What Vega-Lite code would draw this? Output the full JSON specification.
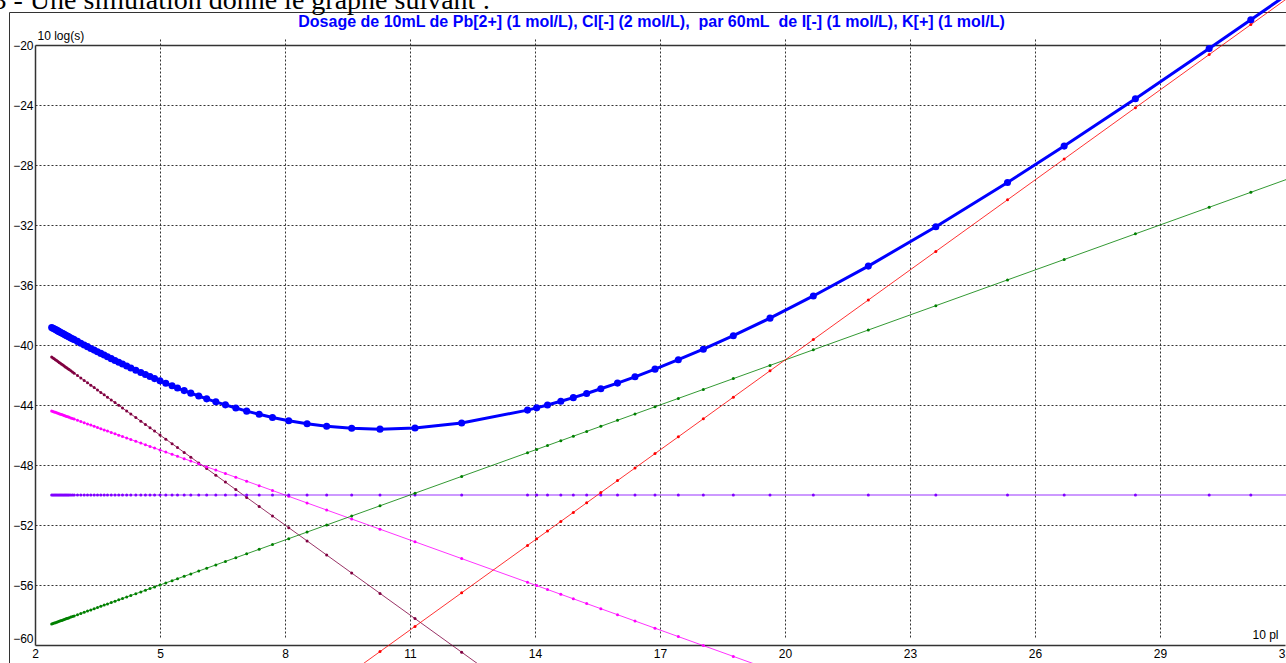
{
  "$schema": "https://vega.github.io/schema/vega-lite/v6.json",
  "autosize": {"type": "none"},
  "width": 1290,
  "height": 660,
  "padding": {"left": 9, "top": 12, "right": -13, "bottom": -9},
  "background": "white",
  "config": {
    "view": {"stroke": "#333333", "strokeWidth": 1},
    "font": "Liberation Sans"
  },
  "data": {
    "values": [
      {"x": 2.40, "total": -38.83, "brun": -40.80, "magenta": -44.40, "violet": -50, "vert": -58.60, "rouge": null},
      {"x": 2.43, "total": -38.88, "brun": -40.86, "magenta": -44.43, "violet": -50, "vert": -58.57, "rouge": null},
      {"x": 2.46, "total": -38.92, "brun": -40.92, "magenta": -44.46, "violet": -50, "vert": -58.54, "rouge": null},
      {"x": 2.49, "total": -38.97, "brun": -40.98, "magenta": -44.49, "violet": -50, "vert": -58.51, "rouge": null},
      {"x": 2.52, "total": -39.01, "brun": -41.04, "magenta": -44.52, "violet": -50, "vert": -58.48, "rouge": null},
      {"x": 2.55, "total": -39.06, "brun": -41.10, "magenta": -44.55, "violet": -50, "vert": -58.45, "rouge": null},
      {"x": 2.58, "total": -39.11, "brun": -41.16, "magenta": -44.58, "violet": -50, "vert": -58.42, "rouge": null},
      {"x": 2.61, "total": -39.15, "brun": -41.22, "magenta": -44.61, "violet": -50, "vert": -58.39, "rouge": null},
      {"x": 2.64, "total": -39.20, "brun": -41.28, "magenta": -44.64, "violet": -50, "vert": -58.36, "rouge": null},
      {"x": 2.67, "total": -39.24, "brun": -41.34, "magenta": -44.67, "violet": -50, "vert": -58.33, "rouge": null},
      {"x": 2.70, "total": -39.29, "brun": -41.40, "magenta": -44.70, "violet": -50, "vert": -58.30, "rouge": null},
      {"x": 2.73, "total": -39.33, "brun": -41.46, "magenta": -44.73, "violet": -50, "vert": -58.27, "rouge": null},
      {"x": 2.76, "total": -39.38, "brun": -41.52, "magenta": -44.76, "violet": -50, "vert": -58.24, "rouge": null},
      {"x": 2.79, "total": -39.42, "brun": -41.58, "magenta": -44.79, "violet": -50, "vert": -58.21, "rouge": null},
      {"x": 2.82, "total": -39.47, "brun": -41.64, "magenta": -44.82, "violet": -50, "vert": -58.18, "rouge": null},
      {"x": 2.86, "total": -39.53, "brun": -41.72, "magenta": -44.86, "violet": -50, "vert": -58.14, "rouge": null},
      {"x": 2.90, "total": -39.59, "brun": -41.80, "magenta": -44.90, "violet": -50, "vert": -58.10, "rouge": null},
      {"x": 2.94, "total": -39.64, "brun": -41.88, "magenta": -44.94, "violet": -50, "vert": -58.06, "rouge": null},
      {"x": 3.02, "total": -39.76, "brun": -42.04, "magenta": -45.02, "violet": -50, "vert": -57.98, "rouge": null},
      {"x": 3.10, "total": -39.88, "brun": -42.20, "magenta": -45.10, "violet": -50, "vert": -57.90, "rouge": null},
      {"x": 3.18, "total": -40.00, "brun": -42.36, "magenta": -45.18, "violet": -50, "vert": -57.82, "rouge": null},
      {"x": 3.26, "total": -40.11, "brun": -42.52, "magenta": -45.26, "violet": -50, "vert": -57.74, "rouge": null},
      {"x": 3.34, "total": -40.23, "brun": -42.68, "magenta": -45.34, "violet": -50, "vert": -57.66, "rouge": null},
      {"x": 3.42, "total": -40.34, "brun": -42.84, "magenta": -45.42, "violet": -50, "vert": -57.58, "rouge": null},
      {"x": 3.50, "total": -40.45, "brun": -43.00, "magenta": -45.50, "violet": -50, "vert": -57.50, "rouge": null},
      {"x": 3.58, "total": -40.56, "brun": -43.16, "magenta": -45.58, "violet": -50, "vert": -57.42, "rouge": null},
      {"x": 3.66, "total": -40.67, "brun": -43.32, "magenta": -45.66, "violet": -50, "vert": -57.34, "rouge": null},
      {"x": 3.74, "total": -40.78, "brun": -43.48, "magenta": -45.74, "violet": -50, "vert": -57.26, "rouge": null},
      {"x": 3.83, "total": -40.91, "brun": -43.66, "magenta": -45.83, "violet": -50, "vert": -57.17, "rouge": null},
      {"x": 3.92, "total": -41.03, "brun": -43.84, "magenta": -45.92, "violet": -50, "vert": -57.08, "rouge": null},
      {"x": 4.01, "total": -41.15, "brun": -44.02, "magenta": -46.01, "violet": -50, "vert": -56.99, "rouge": null},
      {"x": 4.10, "total": -41.27, "brun": -44.20, "magenta": -46.10, "violet": -50, "vert": -56.90, "rouge": null},
      {"x": 4.20, "total": -41.40, "brun": -44.40, "magenta": -46.20, "violet": -50, "vert": -56.80, "rouge": null},
      {"x": 4.30, "total": -41.53, "brun": -44.60, "magenta": -46.30, "violet": -50, "vert": -56.70, "rouge": null},
      {"x": 4.42, "total": -41.68, "brun": -44.84, "magenta": -46.42, "violet": -50, "vert": -56.58, "rouge": null},
      {"x": 4.54, "total": -41.83, "brun": -45.08, "magenta": -46.54, "violet": -50, "vert": -56.46, "rouge": null},
      {"x": 4.65, "total": -41.97, "brun": -45.30, "magenta": -46.65, "violet": -50, "vert": -56.35, "rouge": null},
      {"x": 4.76, "total": -42.10, "brun": -45.52, "magenta": -46.76, "violet": -50, "vert": -56.24, "rouge": null},
      {"x": 4.87, "total": -42.24, "brun": -45.74, "magenta": -46.87, "violet": -50, "vert": -56.13, "rouge": null},
      {"x": 5.00, "total": -42.39, "brun": -46.00, "magenta": -47.00, "violet": -50, "vert": -56.00, "rouge": null},
      {"x": 5.14, "total": -42.55, "brun": -46.28, "magenta": -47.14, "violet": -50, "vert": -55.86, "rouge": null},
      {"x": 5.29, "total": -42.72, "brun": -46.58, "magenta": -47.29, "violet": -50, "vert": -55.71, "rouge": null},
      {"x": 5.42, "total": -42.87, "brun": -46.84, "magenta": -47.42, "violet": -50, "vert": -55.58, "rouge": null},
      {"x": 5.58, "total": -43.04, "brun": -47.16, "magenta": -47.58, "violet": -50, "vert": -55.42, "rouge": null},
      {"x": 5.74, "total": -43.21, "brun": -47.48, "magenta": -47.74, "violet": -50, "vert": -55.26, "rouge": null},
      {"x": 5.93, "total": -43.40, "brun": -47.86, "magenta": -47.93, "violet": -50, "vert": -55.07, "rouge": null},
      {"x": 6.12, "total": -43.59, "brun": -48.24, "magenta": -48.12, "violet": -50, "vert": -54.88, "rouge": null},
      {"x": 6.34, "total": -43.79, "brun": -48.68, "magenta": -48.34, "violet": -50, "vert": -54.66, "rouge": null},
      {"x": 6.57, "total": -43.99, "brun": -49.14, "magenta": -48.57, "violet": -50, "vert": -54.43, "rouge": null},
      {"x": 6.82, "total": -44.20, "brun": -49.64, "magenta": -48.82, "violet": -50, "vert": -54.18, "rouge": null},
      {"x": 7.08, "total": -44.41, "brun": -50.16, "magenta": -49.08, "violet": -50, "vert": -53.92, "rouge": null},
      {"x": 7.38, "total": -44.62, "brun": -50.76, "magenta": -49.38, "violet": -50, "vert": -53.62, "rouge": null},
      {"x": 7.70, "total": -44.83, "brun": -51.40, "magenta": -49.70, "violet": -50, "vert": -53.30, "rouge": null},
      {"x": 8.09, "total": -45.05, "brun": -52.18, "magenta": -50.09, "violet": -50, "vert": -52.91, "rouge": null},
      {"x": 8.53, "total": -45.25, "brun": -53.06, "magenta": -50.53, "violet": -50, "vert": -52.47, "rouge": null},
      {"x": 9.00, "total": -45.42, "brun": -54.00, "magenta": -51.00, "violet": -50, "vert": -52.00, "rouge": null},
      {"x": 9.60, "total": -45.55, "brun": -55.20, "magenta": -51.60, "violet": -50, "vert": -51.40, "rouge": -61.80},
      {"x": 10.28, "total": -45.61, "brun": -56.56, "magenta": -52.28, "violet": -50, "vert": -50.72, "rouge": -60.44},
      {"x": 11.12, "total": -45.53, "brun": -58.24, "magenta": -53.12, "violet": -50, "vert": -49.88, "rouge": -58.76},
      {"x": 12.24, "total": -45.20, "brun": -60.48, "magenta": -54.24, "violet": -50, "vert": -48.76, "rouge": -56.52},
      {"x": 13.82, "total": -44.34, "brun": -63.64, "magenta": -55.82, "violet": -50, "vert": -47.18, "rouge": -53.36},
      {"x": 14.04, "total": -44.19, "brun": null, "magenta": -56.04, "violet": -50, "vert": -46.96, "rouge": -52.92},
      {"x": 14.30, "total": -44.00, "brun": null, "magenta": -56.30, "violet": -50, "vert": -46.70, "rouge": -52.40},
      {"x": 14.62, "total": -43.75, "brun": null, "magenta": -56.62, "violet": -50, "vert": -46.38, "rouge": -51.76},
      {"x": 14.92, "total": -43.51, "brun": null, "magenta": -56.92, "violet": -50, "vert": -46.08, "rouge": -51.16},
      {"x": 15.24, "total": -43.23, "brun": null, "magenta": -57.24, "violet": -50, "vert": -45.76, "rouge": -50.52},
      {"x": 15.58, "total": -42.92, "brun": null, "magenta": -57.58, "violet": -50, "vert": -45.42, "rouge": -49.84},
      {"x": 15.98, "total": -42.54, "brun": null, "magenta": -57.98, "violet": -50, "vert": -45.02, "rouge": -49.04},
      {"x": 16.40, "total": -42.12, "brun": null, "magenta": -58.40, "violet": -50, "vert": -44.60, "rouge": -48.20},
      {"x": 16.88, "total": -41.61, "brun": null, "magenta": -58.88, "violet": -50, "vert": -44.12, "rouge": -47.24},
      {"x": 17.44, "total": -40.98, "brun": null, "magenta": -59.44, "violet": -50, "vert": -43.56, "rouge": -46.12},
      {"x": 18.04, "total": -40.28, "brun": null, "magenta": -60.04, "violet": -50, "vert": -42.96, "rouge": -44.92},
      {"x": 18.76, "total": -39.38, "brun": null, "magenta": -60.76, "violet": -50, "vert": -42.24, "rouge": -43.48},
      {"x": 19.64, "total": -38.21, "brun": null, "magenta": -61.64, "violet": -50, "vert": -41.36, "rouge": -41.72},
      {"x": 20.68, "total": -36.73, "brun": null, "magenta": -62.68, "violet": -50, "vert": -40.32, "rouge": -39.64},
      {"x": 22.00, "total": -34.74, "brun": null, "magenta": null, "violet": -50, "vert": -39.00, "rouge": -37.00},
      {"x": 23.62, "total": -32.12, "brun": null, "magenta": null, "violet": -50, "vert": -37.38, "rouge": -33.76},
      {"x": 25.34, "total": -29.17, "brun": null, "magenta": null, "violet": -50, "vert": -35.66, "rouge": -30.32},
      {"x": 26.70, "total": -26.74, "brun": null, "magenta": null, "violet": -50, "vert": -34.30, "rouge": -27.60},
      {"x": 28.41, "total": -23.58, "brun": null, "magenta": null, "violet": -50, "vert": -32.59, "rouge": -24.18},
      {"x": 30.18, "total": -20.24, "brun": null, "magenta": null, "violet": -50, "vert": -30.82, "rouge": -20.64},
      {"x": 31.18, "total": -18.32, "brun": null, "magenta": null, "violet": -50, "vert": -29.82, "rouge": -18.64},
      {"x": 32.40, "total": -15.96, "brun": null, "magenta": null, "violet": -50, "vert": -28.60, "rouge": -16.20}
    ]
  },
  "resolve": {"axis": {"x": "independent"}},
  "layer": [
    {
      "transform": [
        {"fold": ["brun", "magenta", "violet", "vert", "rouge"], "as": ["serie", "val"]},
        {"filter": "isValid(datum.val)"}
      ],
      "mark": {"type": "line", "strokeWidth": 1, "opacity": 0.8},
      "encoding": {
        "x": {
          "field": "x", "type": "quantitative",
          "scale": {"domain": [2, 32], "range": [26, 1276], "nice": false, "zero": false},
          "axis": {
            "orient": "bottom", "offset": -27,
            "values": [2, 5, 8, 11, 14, 17, 20, 23, 26, 29, 32],
            "grid": true, "gridDash": [2, 2],
            "gridColor": {"condition": {"test": "datum.value === 32 || datum.value === 2", "value": "transparent"}, "value": "#333333"},
            "gridOpacity": 1, "gridWidth": 1,
            "domain": true, "domainColor": "#333333", "domainWidth": 1.5,
            "ticks": false, "tickSize": 0,
            "labelPadding": 3, "labelFont": "Liberation Sans", "labelFontSize": 12, "labelColor": "#000000",
            "labelFlush": false, "labelOverlap": false, "labelBound": false,
            "title": "10 pl", "titleFont": "Liberation Sans", "titleFontSize": 12, "titleFontWeight": "normal", "titleColor": "#000000",
            "titleAngle": 0, "titleAlign": "right", "titleBaseline": "alphabetic", "titleX": 1269, "titleY": -7
          }
        },
        "y": {
          "field": "val", "type": "quantitative",
          "scale": {"domain": [-60, -20], "range": [633, 33], "nice": false, "zero": false},
          "axis": {
            "orient": "left", "offset": -26,
            "values": [-20, -24, -28, -32, -36, -40, -44, -48, -52, -56, -60],
            "grid": true, "gridDash": [2, 2],
            "gridColor": {"condition": {"test": "datum.value === -20 || datum.value === -60", "value": "transparent"}, "value": "#333333"},
            "gridOpacity": 1, "gridWidth": 1,
            "domain": true, "domainColor": "#333333", "domainWidth": 1.5,
            "ticks": false, "tickSize": 0,
            "labelPadding": 2, "labelFont": "Liberation Sans", "labelFontSize": 12, "labelColor": "#000000",
            "labelBaseline": {"condition": {"test": "datum.value === -60", "value": "bottom"}, "value": "middle"},
            "labelFlush": false, "labelOverlap": false, "labelBound": false,
            "title": "10 log(s)", "titleFont": "Liberation Sans", "titleFontSize": 12, "titleFontWeight": "normal", "titleColor": "#000000",
            "titleAngle": 0, "titleAlign": "left", "titleBaseline": "alphabetic", "titleX": 2, "titleY": 27
          }
        },
        "color": {
          "field": "serie", "type": "nominal",
          "scale": {"domain": ["brun", "magenta", "violet", "vert", "rouge"], "range": ["#800040", "#FF00FF", "#8000FF", "#008000", "#FF0000"]},
          "legend": null
        },
        "detail": {"field": "serie"}
      }
    },
    {
      "transform": [
        {"fold": ["brun", "magenta", "violet", "vert", "rouge"], "as": ["serie", "val"]},
        {"filter": "isValid(datum.val)"}
      ],
      "mark": {"type": "point", "filled": true, "size": 9, "opacity": 1},
      "encoding": {
        "x": {"field": "x", "type": "quantitative", "axis": null},
        "y": {"field": "val", "type": "quantitative"},
        "color": {"field": "serie", "type": "nominal", "legend": null}
      }
    },
    {
      "mark": {"type": "line", "strokeWidth": 3, "color": "#0000FF"},
      "encoding": {
        "x": {
          "field": "x", "type": "quantitative",
          "axis": {
            "orient": "top", "offset": -33,
            "domain": true, "domainColor": "#333333", "domainWidth": 1.5,
            "labels": false, "ticks": false, "grid": false,
            "title": "Dosage de 10mL de Pb[2+] (1 mol/L), Cl[-] (2 mol/L),\u00a0 par 60mL\u00a0 de I[-] (1 mol/L), K[+] (1 mol/L)",
            "titleFont": "Liberation Sans", "titleFontSize": 16, "titleFontWeight": "bold", "titleColor": "#0000FF",
            "titleAngle": 0, "titleAlign": "center", "titleBaseline": "alphabetic", "titleX": 642, "titleY": -19
          }
        },
        "y": {"field": "total", "type": "quantitative"}
      }
    },
    {
      "mark": {"type": "point", "filled": true, "size": 50, "color": "#0000FF", "opacity": 1},
      "encoding": {
        "x": {
          "field": "x", "type": "quantitative",
          "axis": {
            "orient": "top", "offset": -33,
            "domain": false, "labels": false, "ticks": false, "grid": false,
            "title": "3 - Une simulation donne le graphe suivant :",
            "titleFont": "Liberation Serif", "titleFontSize": 28, "titleFontWeight": "normal", "titleColor": "#000000",
            "titleAngle": 0, "titleAlign": "left", "titleBaseline": "alphabetic", "titleX": -17, "titleY": -37
          }
        },
        "y": {"field": "total", "type": "quantitative"}
      }
    }
  ]
}
